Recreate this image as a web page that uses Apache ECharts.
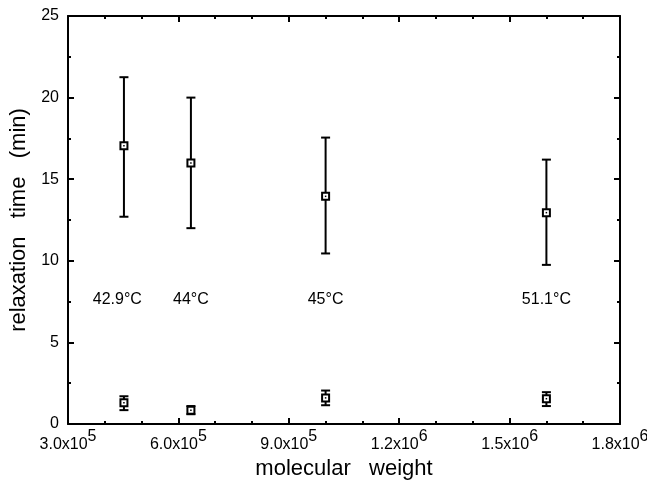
<!DOCTYPE html>
<html>
<head>
<meta charset="utf-8">
<script src="https://cdn.jsdelivr.net/npm/echarts@6/dist/echarts.min.js"></script>
<style>html,body{margin:0;padding:0;background:#fff}#c{width:647px;height:481px}</style>
</head>
<body>
<div id="c"></div>
<script>
// molecular weights of the four samples
const molWeight = [452000, 634000, 1000000, 1600000];
// long relaxation time (min): mean, lower, upper
const slowMean = [17.05, 16.0, 13.95, 12.95];
const slowLow  = [12.7, 12.0, 10.45, 9.75];
const slowHigh = [21.25, 20.0, 17.55, 16.2];
// short relaxation time (min): mean, lower, upper
const fastMean = [1.3, 0.85, 1.6, 1.55];
const fastLow  = [0.85, 0.6, 1.15, 1.1];
const fastHigh = [1.7, 1.1, 2.05, 1.95];
// temperature annotations
const tempText = ['42.9°C', '44°C', '45°C', '51.1°C'];
const tempX = [434000, 634000, 1000000, 1600000];
const tempY = [7.65, 7.65, 7.65, 7.65];
// tick labels
const xTickMantissa = ['3.0', '6.0', '9.0', '1.2', '1.5', '1.8'];
const xTickExp = ['5', '5', '5', '6', '6', '6'];

const FONT = 'Liberation Sans, Arial, Helvetica, sans-serif';

function errData(mean, lo, hi) {
  return molWeight.map((x, i) => [x, mean[i], lo[i], hi[i]]);
}

function renderErr(params, api) {
  const x = api.value(0);
  const c = api.coord([x, api.value(1)]);
  const lo = api.coord([x, api.value(2)]);
  const hi = api.coord([x, api.value(3)]);
  const cap = 4.5;
  const s = 3.5;
  const ls = { stroke: '#000', lineWidth: 2 };
  return {
    type: 'group',
    children: [
      { type: 'line', shape: { x1: c[0], y1: lo[1], x2: c[0], y2: hi[1] }, style: ls },
      { type: 'line', shape: { x1: c[0] - cap, y1: lo[1], x2: c[0] + cap, y2: lo[1] }, style: ls },
      { type: 'line', shape: { x1: c[0] - cap, y1: hi[1], x2: c[0] + cap, y2: hi[1] }, style: ls },
      { type: 'rect', shape: { x: c[0] - s, y: c[1] - s, width: 2 * s, height: 2 * s }, style: { fill: '#fff', stroke: '#000', lineWidth: 2 } },
      { type: 'rect', shape: { x: c[0] - 0.75, y: c[1] - 0.75, width: 1.5, height: 1.5 }, style: { fill: '#000' } }
    ]
  };
}

function renderText(params, api) {
  const p = api.coord([api.value(0), api.value(1)]);
  return {
    type: 'text', x: p[0], y: p[1],
    style: { text: tempText[params.dataIndex], fill: '#000', font: '16px ' + FONT, align: 'center', verticalAlign: 'middle', textAlign: 'center', textVerticalAlign: 'middle' }
  };
}

const xCommon = {
  type: 'value', min: 300000, max: 1800000, interval: 300000,
  axisLine: { onZero: false, lineStyle: { color: '#000', width: 2 } },
  axisTick: { inside: true, length: 6, lineStyle: { color: '#000', width: 2 } },
  minorTick: { show: true, splitNumber: 3, length: 3, lineStyle: { color: '#000', width: 2 } },
  splitLine: { show: false }
};
const yCommon = {
  type: 'value', min: 0, max: 25, interval: 5,
  axisLine: { onZero: false, lineStyle: { color: '#000', width: 2 } },
  axisTick: { inside: true, length: 6, lineStyle: { color: '#000', width: 2 } },
  minorTick: { show: true, splitNumber: 2, length: 3, lineStyle: { color: '#000', width: 2 } },
  splitLine: { show: false }
};

const chart = echarts.init(document.getElementById('c'), null, { renderer: 'canvas' });
chart.setOption({
  animation: false,
  backgroundColor: '#fff',
  grid: { left: 68, right: 27, top: 16, bottom: 57, containLabel: false, outerBoundsMode: 'none' },
  xAxis: [
    Object.assign({}, xCommon, {
      position: 'bottom',
      name: 'molecular   weight', nameLocation: 'middle', nameGap: 25,
      nameTextStyle: { fontFamily: FONT, fontSize: 22, color: '#000' },
      axisLabel: {
        show: true, showMinLabel: true, showMaxLabel: true, margin: 5,
        formatter: (v, i) => '{m|' + xTickMantissa[i] + 'x10}{e|' + xTickExp[i] + '}',
        rich: {
          m: { fontFamily: FONT, fontSize: 16, color: '#000', verticalAlign: 'bottom', lineHeight: 24 },
          e: { fontFamily: FONT, fontSize: 16, color: '#000', verticalAlign: 'top', lineHeight: 24 }
        }
      }
    }),
    Object.assign({}, xCommon, { position: 'top', axisLabel: { show: false } })
  ],
  yAxis: [
    Object.assign({}, yCommon, {
      position: 'left',
      name: 'relaxation   time   (min)', nameLocation: 'middle', nameGap: 35, nameRotate: 90,
      nameTextStyle: { fontFamily: FONT, fontSize: 22, color: '#000' },
      axisLabel: { show: true, margin: 9, fontFamily: FONT, fontSize: 16, color: '#000' }
    }),
    Object.assign({}, yCommon, { position: 'right', axisLabel: { show: false } })
  ],
  series: [
    { type: 'custom', xAxisIndex: 0, yAxisIndex: 0, renderItem: renderErr, data: errData(slowMean, slowLow, slowHigh), z: 5 },
    { type: 'custom', xAxisIndex: 0, yAxisIndex: 0, renderItem: renderErr, data: errData(fastMean, fastLow, fastHigh), z: 5 },
    { type: 'custom', xAxisIndex: 0, yAxisIndex: 0, renderItem: renderText, data: tempX.map((x, i) => [x, tempY[i]]), silent: true, z: 6 }
  ]
});
</script>
</body>
</html>
